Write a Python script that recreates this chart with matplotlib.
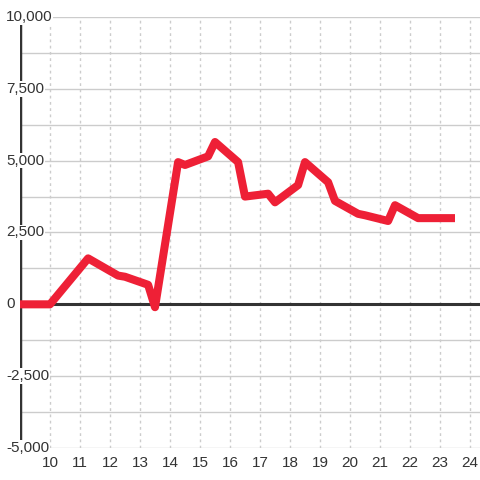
import matplotlib
matplotlib.use("Agg")
import matplotlib.pyplot as plt

hours = [9.0, 10.0, 11.27, 12.27, 12.5, 13.27, 13.5, 14.27, 14.5, 15.27, 15.5,
         16.27, 16.5, 17.27, 17.5, 18.27, 18.5, 19.27, 19.5, 20.27, 20.5,
         21.27, 21.5, 22.27, 22.5, 23.5]
values = [0, 0, 1600, 1000, 960, 680, -100, 4950, 4850, 5150, 5650,
          4950, 3750, 3850, 3550, 4150, 4950, 4250, 3600, 3150, 3100,
          2900, 3450, 3000, 3000, 3000]
x_ticks = list(range(10, 25))
y_ticks = [-5000, -2500, 0, 2500, 5000, 7500, 10000]
y_grid = [-5000 + 1250 * i for i in range(13)]

plt.rcParams['font.family'] = ['Liberation Sans', 'DejaVu Sans']
fig = plt.figure(figsize=(4.8, 4.8), dpi=100)
fig.patch.set_facecolor('white')
ax = fig.add_axes([20/480, 32/480, 460/480, 431/480])
ax.set_xlim(9, 9 + 460/30)
ax.set_ylim(-5000, 10000)
for s in ax.spines.values():
    s.set_visible(False)

for yv in y_grid:
    ax.axhline(yv, color='#cccccc', lw=1, zorder=1)
for xv in x_ticks:
    ax.axvline(xv, color='#cccccc', lw=1, ls=(0, (2, 2.5)), zorder=1)

ax.axhline(0, color='#333333', lw=2.2, zorder=2)
ax.axvline(9, color='#333333', lw=2.5, zorder=2)

ax.plot(hours, values, color='#ee2036', lw=5.8, solid_joinstyle='round',
        solid_capstyle='butt', zorder=3)

ax.set_xticks(x_ticks)
ax.set_xticklabels([str(t) for t in x_ticks], fontsize=11, color='#333333')
ax.tick_params(axis='x', length=0, pad=6)
ax.set_yticks([])

for yv in y_ticks:
    ax.text(-14/460, yv, f"{yv:,}", transform=ax.get_yaxis_transform(),
            ha='left', va='center', fontsize=11, color='#333333', zorder=5,
            clip_on=False,
            bbox=dict(facecolor='white', edgecolor='none', pad=0.5))

fig.savefig('out.png', dpi=100, facecolor='white')
